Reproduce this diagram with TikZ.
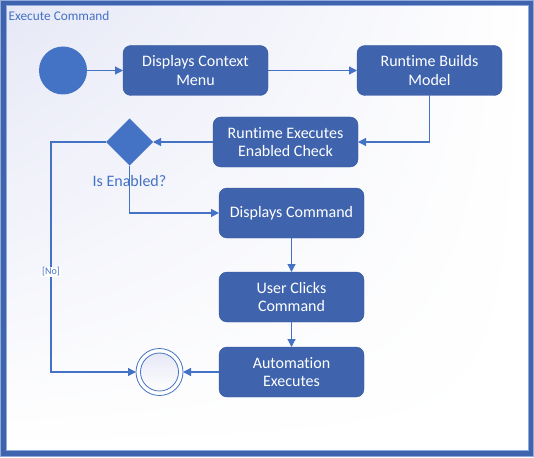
\documentclass[tikz,border=0pt]{standalone}
\usepackage{fontspec}
\setmainfont[Ligatures=NoCommon]{Carlito}
\usetikzlibrary{arrows.meta,positioning,shapes.geometric,shadings}
\definecolor{myFill}{RGB}{63,100,173}
\definecolor{myEdge}{RGB}{50,84,152}
\definecolor{myBlue}{RGB}{68,114,196}
\definecolor{myRim}{RGB}{143,170,220}
\definecolor{myTint}{RGB}{230,232,246}

\begin{document}
\begin{tikzpicture}[x=1pt,y=-1pt,
      mybox/.style={
         rectangle,
         rounded corners=8pt,
         draw=myEdge,
         fill=myFill,
         text=white,
         align=center,
         inner sep=2pt,
         outer sep=0pt,
         minimum width=145pt,
         minimum height=50pt,
         font=\fontsize{16}{18.5}\selectfont},
      mystart/.style={circle, fill=myBlue, inner sep=0pt, outer sep=0pt, minimum size=48pt},
      mydec/.style={diamond, aspect=1, fill=myBlue, inner sep=0pt, outer sep=0pt,
         minimum width=47pt, minimum height=47pt},
      myend/.style={circle, draw=myBlue, line width=0.8pt, fill=white, inner sep=0pt,
         outer sep=0pt, minimum size=47pt},
      mytext/.style={text=myBlue, inner sep=0pt, font=\fontsize{16}{18.5}\selectfont},
      mynote/.style={fill=white, text=myBlue, inner sep=1pt, font=\fontsize{10}{12}\selectfont},
      myarrow/.style={-{Triangle[length=8pt,width=8pt]}, draw=myBlue, line width=1.2pt}
      ]
      \useasboundingbox (0,0) rectangle (534,457);
      % frame
      \fill[myFill] (0,0) rectangle (534,457);
      \draw[myRim, line width=1pt] (0.5,0.5) rectangle (533.5,456.5);
      \shade[upper left=myTint, upper right=white, lower left=white, lower right=white]
         (6,6) rectangle (528,450);
      \draw[myRim, line width=1pt] (6,6) rectangle (528,450);
      \node[text=myBlue, inner sep=0pt, anchor=base west, font=\fontsize{13.3}{15}\selectfont]
         (title) at (8.5,21) {Execute Command};

      \node[mystart] (startc) at (63,70.5) {};
      \node[mybox,right=36pt of startc] (menu) {Displays Context\\Menu};
      \node[mybox,right=89pt of menu] (model) {Runtime Builds\\Model};
      \node[mybox] (check) at (285.5,142) {Runtime Executes\\Enabled Check};
      \node[mydec,left=60pt of check] (dec) {};
      \node[mytext,below=10pt of dec] (isen) {Is Enabled?};
      \node[mybox] (show) at (291.5,213) {Displays Command};
      \node[mybox,below=34pt of show] (click) {User Clicks\\Command};
      \node[mybox,below=25pt of click] (run) {Automation\\Executes};
      \node[myend,left=36pt of run] (final) {};
      \node[circle, draw=myBlue, line width=0.8pt, minimum size=38pt, inner sep=0pt,
         top color=myTint, bottom color=white] (finalin) at (final) {};
      \coordinate (bend) at (51,142);

    \foreach \i/\j in {% start node/end node
      startc/menu,
      menu/model,
      check/dec,
      show/click,
      click/run,
      run/final}
    \draw[myarrow] (\i) -- (\j);

    \draw[myarrow] (model.south) |- (check.east);
    \draw[myarrow] (dec.south) |- (show.west);
    \draw[myarrow] (dec.west) -- (bend) -- node[mynote,pos=0.565] {[No]} (bend |- final) -- (final.west);
    \end{tikzpicture}
\end{document}
